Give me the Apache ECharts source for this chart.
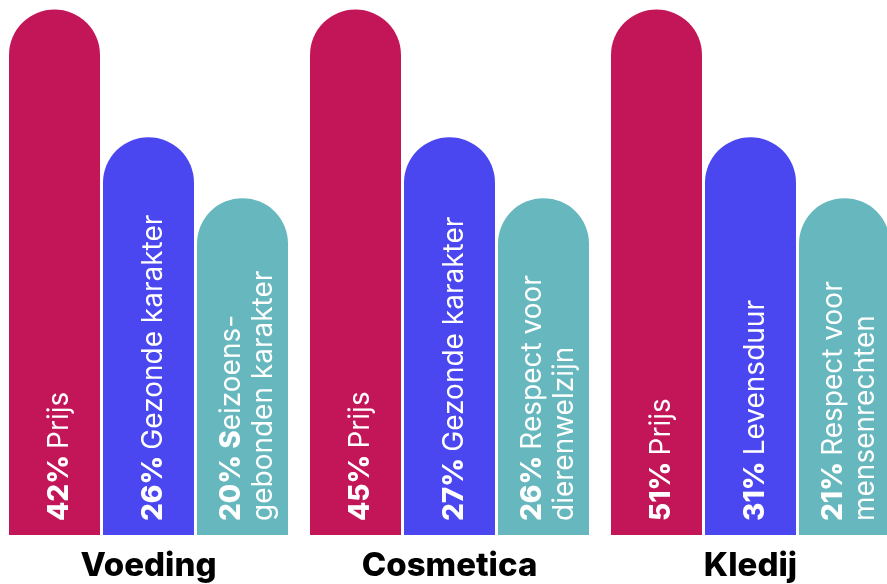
<!DOCTYPE html>
<html>
<head>
<meta charset="utf-8">
<script src="https://cdn.jsdelivr.net/npm/echarts@6/dist/echarts.min.js"></script>
<style>
html,body{margin:0;padding:0;background:#fff;}
#c{width:887px;height:584px;}
</style>
</head>
<body>
<div id="c"></div>
<script>
// Categories (x axis)
var categories = ['Voeding', 'Cosmetica', 'Kledij'];

// Shown percentages per rank (1st, 2nd, 3rd reason) per category
var pctRank1 = [42, 45, 51];
var pctRank2 = [26, 27, 31];
var pctRank3 = [20, 26, 21];

// Label texts per rank per category
var txtRank1 = ['Prijs', 'Prijs', 'Prijs'];
var txtRank2 = ['Gezonde karakter', 'Gezonde karakter', 'Levensduur'];
var txtRank3 = ['Seizoens-\ngebonden karakter', 'Respect voor\ndierenwelzijn', 'Respect voor\nmensenrechten'];

// Visual bar heights (same in every group, relative index)
var heightRank1 = [100, 100, 100];
var heightRank2 = [75.7, 75.7, 75.7];
var heightRank3 = [64.1, 64.1, 64.1];

var colors = ['#C31658', '#4A46F0', '#67B8BE'];
var FONT = 'Inter';

function buildLabel(pct, txt) {
  var lines = txt.split('\n');
  var first = lines[0];
  var boldExtra = '';
  // the reference renders the leading "S" of "Seizoens-" in bold
  if (first.indexOf('Seizoens') === 0) { boldExtra = first.charAt(0); first = first.slice(1); }
  var out = ['{b|' + pct + '% ' + boldExtra + '}{r|' + first + '}'];
  for (var i = 1; i < lines.length; i++) out.push('{r|' + lines[i] + '}');
  return out.join('\n');
}

function makeSeries(name, heights, pcts, txts, color) {
  return {
    name: name,
    type: 'bar',
    barWidth: 91,
    barGap: '3.3%',
    data: heights.map(function (h, i) {
      return { value: h, labelText: buildLabel(pcts[i], txts[i]) };
    }),
    itemStyle: { color: color, borderRadius: [45.5, 45.5, 0, 0] },
    label: {
      show: true,
      position: 'insideBottom',
      distance: 14,
      rotate: 90,
      align: 'left',
      verticalAlign: 'middle',
      offset: [0, 5],
      formatter: function (p) { return p.data.labelText; },
      rich: {
        b: { fontFamily: FONT, fontWeight: 800, fontSize: 28, color: '#fff', lineHeight: 32 },
        r: { fontFamily: FONT, fontWeight: 'normal', fontSize: 28, color: '#fff', lineHeight: 32 }
      }
    },
    silent: true,
    animation: false
  };
}

var chart = echarts.init(document.getElementById('c'), null, { renderer: 'canvas' });
chart.setOption({
  backgroundColor: '#ffffff',
  animation: false,
  grid: { left: -2, width: 903, top: 9.5, bottom: 49, containLabel: false, outerBoundsMode: 'none' },
  xAxis: {
    type: 'category',
    data: categories,
    axisLine: { show: false },
    axisTick: { show: false },
    axisLabel: {
      margin: 15,
      fontFamily: FONT,
      fontWeight: 800,
      fontSize: 33,
      color: '#000'
    }
  },
  yAxis: { type: 'value', min: 0, max: 100, show: false, splitLine: { show: false } },
  series: [
    makeSeries('1', heightRank1, pctRank1, txtRank1, colors[0]),
    makeSeries('2', heightRank2, pctRank2, txtRank2, colors[1]),
    makeSeries('3', heightRank3, pctRank3, txtRank3, colors[2])
  ]
});
</script>
</body>
</html>
